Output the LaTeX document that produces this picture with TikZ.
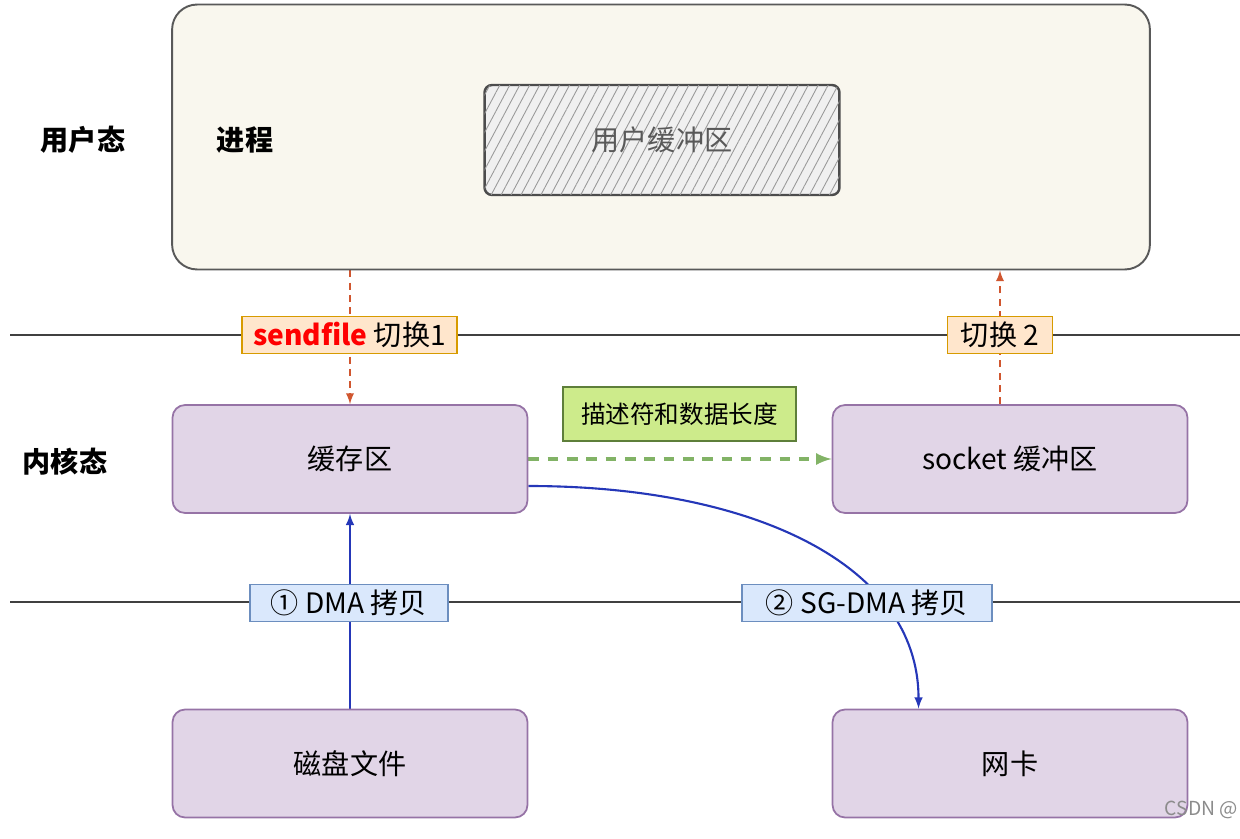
\documentclass[tikz,border=0pt]{standalone}
\usepackage{fontspec}
\setmainfont{Noto Sans CJK SC}
\usetikzlibrary{positioning,patterns.meta,backgrounds}
\definecolor{procfill}{HTML}{F9F7EE}
\definecolor{kfill}{HTML}{E1D5E7}
\definecolor{kdraw}{HTML}{9673A6}
\definecolor{ofill}{HTML}{FFE6CC}
\definecolor{odraw}{HTML}{D79B00}
\definecolor{gfill}{HTML}{CDEB8B}
\definecolor{gdraw}{HTML}{5E7F3A}
\definecolor{bfill}{HTML}{DAE8FC}
\definecolor{bdraw}{HTML}{6C8EBF}
\definecolor{redarrow}{HTML}{D0562F}
\definecolor{bluearrow}{HTML}{2537B8}
\definecolor{greenarrow}{HTML}{82B366}
\tikzset{arrow/.style={->, >=latex}}
\tikzset{dashed-arrow/.style={->, >=latex, dashed}}
\tikzset{kbox/.style={draw=kdraw, fill=kfill, line width=1pt, rounded corners=0.25cm,
    minimum width=7.1cm, minimum height=2.16cm}}
\tikzset{tagbox/.style={draw, line width=0.8pt, minimum height=0.68cm, inner sep=3pt}}
\tikzset{mode/.style={font=\fontsize{16}{19}\selectfont\bfseries}}

\begin{document}
\begin{tikzpicture}[x=0.02cm, y=-0.02cm, every node/.style={font=\fontsize{16}{19}\selectfont}]
      \useasboundingbox (0,0) rectangle (1240,838);

      % user space
      \node[draw=black!65, fill=procfill, line width=1.1pt, rounded corners=0.5cm,
            minimum width=19.56cm, minimum height=5.3cm] (proc) at (661,137) {};
      \node[draw=black!70, fill=black!6, line width=1.4pt, rounded corners=0.15cm,
            minimum width=7.1cm, minimum height=2.2cm,
            postaction={pattern={Lines[angle=62,distance=5pt,line width=0.5pt]}, pattern color=black!40},
            text=black!65] (ubuf) at (662,140) {用户缓冲区};
      \node[mode] (umode) at (83,140) {用户态};
      \node[mode] (pname) at (245,140) {进程};

      % kernel space
      \node[kbox] (cache) at (350,459) {缓存区};
      \node[kbox] (sock) at (1010,459) {socket 缓冲区};
      \node[mode] (kmode) at (65,462) {内核态};

      % devices
      \node[kbox] (disk) at (350,763.5) {磁盘文件};
      \node[kbox] (nic) at (1010,763.5) {网卡};

      % labels
      \node[tagbox, draw=odraw, fill=ofill, minimum width=4.3cm] (sw1) at (349.5,335)
            {\textcolor{red}{\bfseries sendfile} 切换1};
      \node[tagbox, draw=odraw, fill=ofill, minimum width=2.1cm] (sw2) at (1000,335) {切换 2};
      \node[tagbox, draw=gdraw, fill=gfill, minimum width=4.66cm, minimum height=1.08cm,
            font=\fontsize{14}{17}\selectfont] (desc) at (679.5,414) {描述符和数据长度};
      \node[tagbox, draw=bdraw, fill=bfill, minimum width=3.96cm] (dma1) at (349,603) {① DMA 拷贝};
      \node[tagbox, draw=bdraw, fill=bfill, minimum width=5cm] (dma2) at (867,603) {② SG-DMA 拷贝};
      \node[anchor=east, text=black!45, font=\fontsize{11}{13}\selectfont, inner sep=1pt] (mark) at (1240,810) {CSDN @};

      \coordinate (l1a) at (10,335);
      \coordinate (l1b) at (1240,335);
      \coordinate (l2a) at (10,602);
      \coordinate (l2b) at (1240,602);

      \begin{scope}[on background layer]
      \draw[black!75, line width=1pt] (l1a) -- (l1b);
      \draw[black!75, line width=1pt] (l2a) -- (l2b);

      \draw[dashed-arrow, redarrow, line width=1.1pt, dash pattern=on 4pt off 3pt] (cache.north |- proc.south) -- (cache.north);
      \draw[dashed-arrow, redarrow, line width=1.1pt, dash pattern=on 4pt off 3pt] (sw2 |- sock.north) -- (sw2 |- proc.south);
      \draw[dashed-arrow, greenarrow, line width=2pt, dash pattern=on 6pt off 5pt] (cache.east) -- (sock.west);
      \draw[arrow, bluearrow, line width=1.2pt] (disk.north) -- (cache.south);
      \draw[arrow, bluearrow, line width=1.2pt] ([yshift=-0.54cm]cache.east)
            to[out=0, in=90, out distance=4.46cm, in distance=2.9cm] ([xshift=-1.83cm]nic.north);
      \end{scope}
    \end{tikzpicture}
\end{document}
